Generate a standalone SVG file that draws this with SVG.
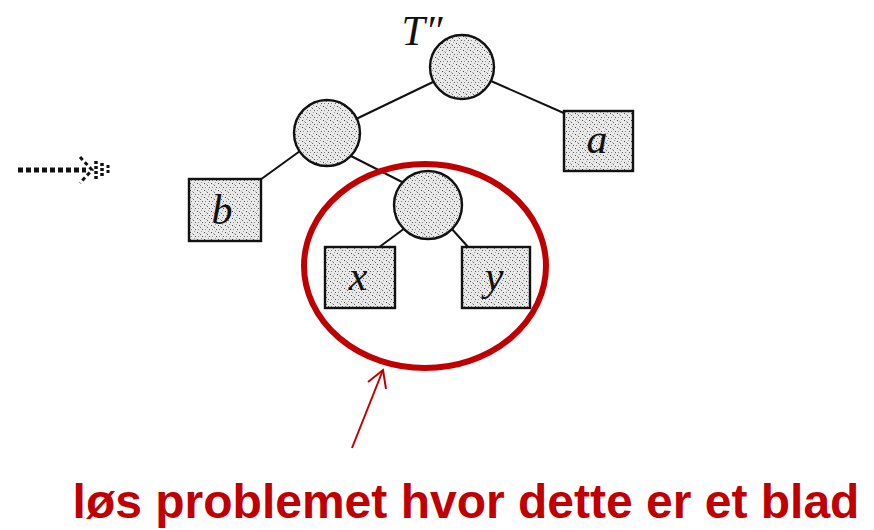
<svg xmlns="http://www.w3.org/2000/svg" width="874" height="530" viewBox="0 0 874 530">
<defs>
<pattern id="stip" width="7" height="7" patternUnits="userSpaceOnUse">
<rect width="7" height="7" fill="#e9e9e9"/>
<rect x="1" y="1" width="1" height="1" fill="#444"/>
<rect x="4" y="3" width="1" height="1" fill="#666"/>
<rect x="2" y="5" width="1" height="1" fill="#888"/>
<rect x="5" y="0" width="1" height="1" fill="#999"/>
<rect x="6" y="5" width="1" height="1" fill="#555"/>
<rect x="3" y="2" width="1" height="1" fill="#aaa"/>
</pattern>
</defs>
<style>
.node{fill:url(#stip);stroke:#111;stroke-width:2.4}
.edge{stroke:#111;stroke-width:2;fill:none}
.lbl{font-family:"Liberation Serif",serif;font-style:italic;font-size:42px;fill:#111;text-anchor:middle}
.red{stroke:#c00000;fill:none}
</style>
<rect width="874" height="530" fill="#fff"/>
<g id="connectors">
<line class="edge" x1="433" y1="82" x2="354" y2="120"/>
<line class="edge" x1="491" y1="81" x2="566" y2="114"/>
<line class="edge" x1="300" y1="151" x2="260" y2="180"/>
<line class="edge" x1="351" y1="156" x2="404" y2="183"/>
<line class="edge" x1="405" y1="228" x2="378" y2="248"/>
<line class="edge" x1="451" y1="228" x2="469" y2="248"/>
</g>
<g id="T">
<text x="422" y="45" class="lbl" font-size="42">T″</text>
</g>
<g id="root"><circle class="node" cx="462" cy="67" r="32"/></g>
<g id="n1"><circle class="node" cx="327" cy="133" r="33"/></g>
<g id="n2"><circle class="node" cx="428" cy="205" r="34"/></g>
<g id="a"><rect class="node" x="564" y="111" width="69" height="60"/><text class="lbl" x="597" y="153">a</text></g>
<g id="b"><rect class="node" x="189" y="179" width="72" height="62"/><text class="lbl" x="222" y="224">b</text></g>
<g id="x"><rect class="node" x="325" y="247" width="70" height="61"/><text class="lbl" x="358" y="290">x</text></g>
<g id="y"><rect class="node" x="462" y="247" width="68" height="61"/><text class="lbl" x="494" y="290">y</text></g>
<g id="dotarrow">
<line x1="18" y1="170" x2="86" y2="170" stroke="#111" stroke-width="5" stroke-dasharray="5,3"/>
<path d="M80 157 L92 170 L80 183" stroke="#111" stroke-width="3" fill="none" stroke-dasharray="4,3"/>
<line x1="96" y1="161" x2="96" y2="179" stroke="#111" stroke-width="3.5" stroke-dasharray="3,2"/>
<line x1="102" y1="163" x2="102" y2="177" stroke="#111" stroke-width="3.5" stroke-dasharray="3,2"/>
<line x1="108" y1="165" x2="108" y2="175" stroke="#111" stroke-width="3" stroke-dasharray="3,2"/>
</g>
<g id="highlight">
<ellipse class="red" cx="425" cy="266" rx="121" ry="102" stroke-width="6"/>
<line class="red" x1="352" y1="448" x2="383" y2="370" stroke-width="2"/>
<path class="red" d="M368 382 L383 370 L386 389" stroke-width="2"/>
</g>
<text x="466" y="518" font-family="Liberation Sans, Arial, sans-serif" font-weight="bold" font-size="48" fill="#c00000" text-anchor="middle">løs problemet hvor dette er et blad</text>
</svg>
